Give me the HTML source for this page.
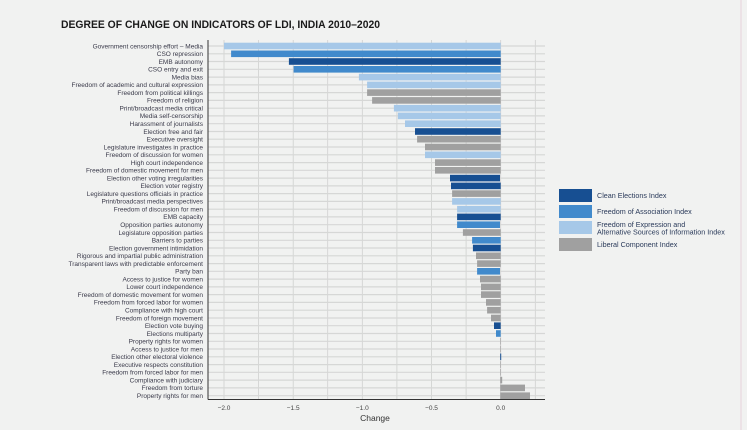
<!DOCTYPE html>
<html><head><meta charset="utf-8"><style>
html,body{margin:0;padding:0;background:#f1f2f1;}
svg{display:block;font-family:"Liberation Sans",sans-serif;}
</style></head><body>
<svg width="747" height="430" viewBox="0 0 747 430" xmlns="http://www.w3.org/2000/svg">
<rect width="747" height="430" fill="#f1f2f1"/>
<line x1="741" y1="0" x2="741" y2="430" stroke="#e6d3dc" stroke-width="1"/>
<text x="61" y="28" font-size="11" font-weight="bold" fill="#1a1a1a" textLength="319" lengthAdjust="spacingAndGlyphs">DEGREE OF CHANGE ON INDICATORS OF LDI, INDIA 2010–2020</text>
<g stroke="#cfd0cf" stroke-width="0.8">
<line x1="224" y1="40" x2="224" y2="399"/><line x1="258.6" y1="40" x2="258.6" y2="399"/><line x1="293.2" y1="40" x2="293.2" y2="399"/><line x1="327.7" y1="40" x2="327.7" y2="399"/><line x1="362.3" y1="40" x2="362.3" y2="399"/><line x1="396.9" y1="40" x2="396.9" y2="399"/><line x1="431.5" y1="40" x2="431.5" y2="399"/><line x1="466.1" y1="40" x2="466.1" y2="399"/><line x1="500.7" y1="40" x2="500.7" y2="399"/><line x1="535.3" y1="40" x2="535.3" y2="399"/>
</g>
<g stroke="#d6d7d6" stroke-width="1.2">
<line x1="208" y1="46" x2="545" y2="46"/><line x1="208" y1="53.8" x2="545" y2="53.8"/><line x1="208" y1="61.5" x2="545" y2="61.5"/><line x1="208" y1="69.3" x2="545" y2="69.3"/><line x1="208" y1="77.1" x2="545" y2="77.1"/><line x1="208" y1="84.9" x2="545" y2="84.9"/><line x1="208" y1="92.6" x2="545" y2="92.6"/><line x1="208" y1="100.4" x2="545" y2="100.4"/><line x1="208" y1="108.2" x2="545" y2="108.2"/><line x1="208" y1="115.9" x2="545" y2="115.9"/><line x1="208" y1="123.7" x2="545" y2="123.7"/><line x1="208" y1="131.5" x2="545" y2="131.5"/><line x1="208" y1="139.2" x2="545" y2="139.2"/><line x1="208" y1="147" x2="545" y2="147"/><line x1="208" y1="154.8" x2="545" y2="154.8"/><line x1="208" y1="162.6" x2="545" y2="162.6"/><line x1="208" y1="170.3" x2="545" y2="170.3"/><line x1="208" y1="178.1" x2="545" y2="178.1"/><line x1="208" y1="185.9" x2="545" y2="185.9"/><line x1="208" y1="193.6" x2="545" y2="193.6"/><line x1="208" y1="201.4" x2="545" y2="201.4"/><line x1="208" y1="209.2" x2="545" y2="209.2"/><line x1="208" y1="216.9" x2="545" y2="216.9"/><line x1="208" y1="224.7" x2="545" y2="224.7"/><line x1="208" y1="232.5" x2="545" y2="232.5"/><line x1="208" y1="240.3" x2="545" y2="240.3"/><line x1="208" y1="248" x2="545" y2="248"/><line x1="208" y1="255.8" x2="545" y2="255.8"/><line x1="208" y1="263.6" x2="545" y2="263.6"/><line x1="208" y1="271.3" x2="545" y2="271.3"/><line x1="208" y1="279.1" x2="545" y2="279.1"/><line x1="208" y1="286.9" x2="545" y2="286.9"/><line x1="208" y1="294.6" x2="545" y2="294.6"/><line x1="208" y1="302.4" x2="545" y2="302.4"/><line x1="208" y1="310.2" x2="545" y2="310.2"/><line x1="208" y1="318" x2="545" y2="318"/><line x1="208" y1="325.7" x2="545" y2="325.7"/><line x1="208" y1="333.5" x2="545" y2="333.5"/><line x1="208" y1="341.3" x2="545" y2="341.3"/><line x1="208" y1="349" x2="545" y2="349"/><line x1="208" y1="356.8" x2="545" y2="356.8"/><line x1="208" y1="364.6" x2="545" y2="364.6"/><line x1="208" y1="372.3" x2="545" y2="372.3"/><line x1="208" y1="380.1" x2="545" y2="380.1"/><line x1="208" y1="387.9" x2="545" y2="387.9"/><line x1="208" y1="395.7" x2="545" y2="395.7"/>
</g>
<g>
<rect x="224" y="42.7" width="276.7" height="6.6" fill="#a6c8e8"/>
<rect x="231.1" y="50.5" width="269.6" height="6.6" fill="#418acc"/>
<rect x="288.9" y="58.2" width="211.8" height="6.6" fill="#174f92"/>
<rect x="293.6" y="66" width="207.1" height="6.6" fill="#418acc"/>
<rect x="358.9" y="73.8" width="141.8" height="6.6" fill="#a6c8e8"/>
<rect x="367.1" y="81.6" width="133.6" height="6.6" fill="#a6c8e8"/>
<rect x="367.1" y="89.3" width="133.6" height="6.6" fill="#a0a0a0"/>
<rect x="372.1" y="97.1" width="128.6" height="6.6" fill="#a0a0a0"/>
<rect x="393.9" y="104.9" width="106.8" height="6.6" fill="#a6c8e8"/>
<rect x="397.9" y="112.6" width="102.8" height="6.6" fill="#a6c8e8"/>
<rect x="405" y="120.4" width="95.7" height="6.6" fill="#a6c8e8"/>
<rect x="415" y="128.2" width="85.7" height="6.6" fill="#174f92"/>
<rect x="417.1" y="135.9" width="83.6" height="6.6" fill="#a0a0a0"/>
<rect x="425" y="143.7" width="75.7" height="6.6" fill="#a0a0a0"/>
<rect x="425" y="151.5" width="75.7" height="6.6" fill="#a6c8e8"/>
<rect x="435" y="159.3" width="65.7" height="6.6" fill="#a0a0a0"/>
<rect x="435" y="167" width="65.7" height="6.6" fill="#a0a0a0"/>
<rect x="450" y="174.8" width="50" height="6.6" fill="#174f92"/>
<rect x="451" y="182.6" width="49.7" height="6.6" fill="#174f92"/>
<rect x="452.1" y="190.3" width="48.6" height="6.6" fill="#a0a0a0"/>
<rect x="452.1" y="198.1" width="48.6" height="6.6" fill="#a6c8e8"/>
<rect x="457.1" y="205.9" width="43.6" height="6.6" fill="#a6c8e8"/>
<rect x="457.1" y="213.6" width="43.6" height="6.6" fill="#174f92"/>
<rect x="457.1" y="221.4" width="42.9" height="6.6" fill="#418acc"/>
<rect x="462.9" y="229.2" width="37.8" height="6.6" fill="#a0a0a0"/>
<rect x="472.1" y="237" width="28.6" height="6.6" fill="#418acc"/>
<rect x="472.9" y="244.7" width="27.8" height="6.6" fill="#174f92"/>
<rect x="476" y="252.5" width="24.7" height="6.6" fill="#a0a0a0"/>
<rect x="477.1" y="260.3" width="23.6" height="6.6" fill="#a0a0a0"/>
<rect x="477.1" y="268" width="22.9" height="6.6" fill="#418acc"/>
<rect x="480" y="275.8" width="20.7" height="6.6" fill="#a0a0a0"/>
<rect x="481" y="283.6" width="19.7" height="6.6" fill="#a0a0a0"/>
<rect x="481" y="291.3" width="19.7" height="6.6" fill="#a0a0a0"/>
<rect x="486" y="299.1" width="14.7" height="6.6" fill="#a0a0a0"/>
<rect x="487.1" y="306.9" width="13.6" height="6.6" fill="#a0a0a0"/>
<rect x="491" y="314.7" width="9.7" height="6.6" fill="#a0a0a0"/>
<rect x="494" y="322.4" width="6.7" height="6.6" fill="#174f92"/>
<rect x="496" y="330.2" width="4.7" height="6.6" fill="#418acc"/>
<rect x="500.2" y="338" width="0.6" height="6.6" fill="#a0a0a0"/>
<rect x="500.2" y="345.7" width="0.6" height="6.6" fill="#a0a0a0"/>
<rect x="500.2" y="353.5" width="1" height="6.6" fill="#174f92"/>
<rect x="500.2" y="361.3" width="0.6" height="6.6" fill="#a0a0a0"/>
<rect x="500.2" y="369" width="0.6" height="6.6" fill="#a0a0a0"/>
<rect x="500.2" y="376.8" width="2" height="6.6" fill="#a0a0a0"/>
<rect x="500.2" y="384.6" width="24.8" height="6.6" fill="#a0a0a0"/>
<rect x="500.2" y="392.4" width="29.8" height="6.6" fill="#a0a0a0"/>
</g>
<line x1="208" y1="40" x2="208" y2="399.5" stroke="#333" stroke-width="1"/>
<line x1="208" y1="399.5" x2="545" y2="399.5" stroke="#333" stroke-width="1"/>
<g font-size="6.5" fill="#3a3a4a" text-anchor="end">
<text x="203" y="48.3">Government censorship effort – Media</text>
<text x="203" y="56.1">CSO repression</text>
<text x="203" y="63.8">EMB autonomy</text>
<text x="203" y="71.6">CSO entry and exit</text>
<text x="203" y="79.4">Media bias</text>
<text x="203" y="87.2">Freedom of academic and cultural expression</text>
<text x="203" y="94.9">Freedom from political killings</text>
<text x="203" y="102.7">Freedom of religion</text>
<text x="203" y="110.5">Print/broadcast media critical</text>
<text x="203" y="118.2">Media self-censorship</text>
<text x="203" y="126">Harassment of journalists</text>
<text x="203" y="133.8">Election free and fair</text>
<text x="203" y="141.5">Executive oversight</text>
<text x="203" y="149.3">Legislature investigates in practice</text>
<text x="203" y="157.1">Freedom of discussion for women</text>
<text x="203" y="164.9">High court independence</text>
<text x="203" y="172.6">Freedom of domestic movement for men</text>
<text x="203" y="180.4">Election other voting irregularities</text>
<text x="203" y="188.2">Election voter registry</text>
<text x="203" y="195.9">Legislature questions officials in practice</text>
<text x="203" y="203.7">Print/broadcast media perspectives</text>
<text x="203" y="211.5">Freedom of discussion for men</text>
<text x="203" y="219.2">EMB capacity</text>
<text x="203" y="227">Opposition parties autonomy</text>
<text x="203" y="234.8">Legislature opposition parties</text>
<text x="203" y="242.6">Barriers to parties</text>
<text x="203" y="250.3">Election government intimidation</text>
<text x="203" y="258.1">Rigorous and impartial public administration</text>
<text x="203" y="265.9">Transparent laws with predictable enforcement</text>
<text x="203" y="273.6">Party ban</text>
<text x="203" y="281.4">Access to justice for women</text>
<text x="203" y="289.2">Lower court independence</text>
<text x="203" y="296.9">Freedom of domestic movement for women</text>
<text x="203" y="304.7">Freedom from forced labor for women</text>
<text x="203" y="312.5">Compliance with high court</text>
<text x="203" y="320.3">Freedom of foreign movement</text>
<text x="203" y="328">Election vote buying</text>
<text x="203" y="335.8">Elections multiparty</text>
<text x="203" y="343.6">Property rights for women</text>
<text x="203" y="351.3">Access to justice for men</text>
<text x="203" y="359.1">Election other electoral violence</text>
<text x="203" y="366.9">Executive respects constitution</text>
<text x="203" y="374.6">Freedom from forced labor for men</text>
<text x="203" y="382.4">Compliance with judiciary</text>
<text x="203" y="390.2">Freedom from torture</text>
<text x="203" y="398">Property rights for men</text>
</g>
<g font-size="6.5" fill="#444" text-anchor="middle">
<text x="224" y="410">−2.0</text><text x="293.2" y="410">−1.5</text><text x="362.3" y="410">−1.0</text><text x="431.5" y="410">−0.5</text><text x="500.7" y="410">0.0</text>
</g>
<text x="375" y="421" font-size="8.5" fill="#333" text-anchor="middle">Change</text>
<g>
<rect x="559" y="189" width="33" height="13" fill="#174f92"/>
<rect x="559" y="205" width="33" height="13" fill="#418acc"/>
<rect x="559" y="221" width="33" height="13" fill="#a6c8e8"/>
<rect x="559" y="238" width="33" height="13" fill="#a0a0a0"/>
</g>
<g font-size="7.2" fill="#2a3a5a">
<text x="597" y="198">Clean Elections Index</text>
<text x="597" y="214">Freedom of Association Index</text>
<text x="597" y="227">Freedom of Expression and</text>
<text x="597" y="234.5">Alternative Sources of Information Index</text>
<text x="597" y="247">Liberal Component Index</text>
</g>
</svg>
</body></html>
